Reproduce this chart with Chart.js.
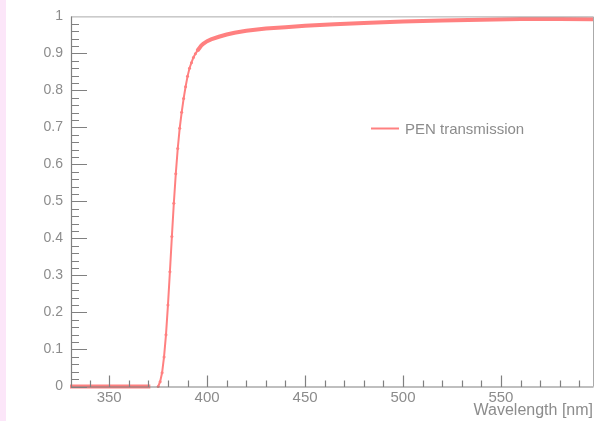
<!DOCTYPE html>
<html>
<head>
<meta charset="utf-8">
<script src="https://cdn.jsdelivr.net/npm/chart.js@4.4.0/dist/chart.umd.min.js"></script>
<style>
  html, body { margin: 0; padding: 0; background: #fff; }
  #wrap { width: 597px; height: 421px; position: relative; }
</style>
</head>
<body>
<div id="wrap"><canvas id="chart" width="597" height="421"></canvas></div>
<script>
// data (nm, fraction transmitted)
const wavelength = [330, 340, 350, 360, 371, 372,
  375, 376, 377, 378, 379, 380, 381, 382, 383, 384, 385, 386, 387, 388, 389, 390,
  391, 392, 393, 394, 395, 396, 397, 398, 400, 402, 406, 410, 414, 420, 430, 440,
  450, 465, 480, 500, 520, 540, 560, 580, 597];
const transmission = [0, 0, 0, 0, 0, null,
  0, 0.013, 0.037, 0.08, 0.14, 0.22, 0.31, 0.405, 0.495, 0.575, 0.643, 0.698, 0.741, 0.778, 0.81, 0.838,
  0.86, 0.875, 0.889, 0.899, 0.907, 0.914, 0.921, 0.926, 0.933, 0.938, 0.945, 0.951, 0.956, 0.961, 0.967, 0.971,
  0.975, 0.979, 0.982, 0.986, 0.989, 0.991, 0.993, 0.993, 0.992];

const xTicks = [350, 400, 450, 500, 550];
const yTicks = [0, 0.1, 0.2, 0.3, 0.4, 0.5, 0.6, 0.7, 0.8, 0.9, 1];
const seriesName = 'PEN transmission';
const xTitle = 'Wavelength [nm]';

const lineColor = '#ff8080';
const axisColor = '#808080';
const textColor = '#8c8c8c';
const FONT = '"Liberation Sans", Arial, sans-serif';

// ROOT style frame: ticks drawn inside the frame, minor ticks, legend without box
const rootFrame = {
  id: 'rootFrame',
  beforeDraw(chart) {
    const c = chart.ctx;
    c.save();
    c.fillStyle = '#fce6f9';
    c.fillRect(0, 0, 6, chart.height);
    c.restore();
  },
  afterDraw(chart) {
    const c = chart.ctx, a = chart.chartArea;
    const xs = chart.scales.x, ys = chart.scales.y;
    c.save();
    c.lineWidth = 1;

    // frame
    c.strokeStyle = '#aaaaaa';
    c.beginPath();
    c.moveTo(a.left, a.top + 0.5); c.lineTo(a.right + 0.5, a.top + 0.5);
    c.lineTo(a.right + 0.5, a.bottom);
    c.stroke();

    c.strokeStyle = axisColor;
    c.lineWidth = 1.2;
    c.beginPath();
    c.moveTo(a.left + 0.5, a.top); c.lineTo(a.left + 0.5, a.bottom + 0.5);
    c.lineTo(a.right + 0.5, a.bottom + 0.5);
    // y ticks
    for (let i = 0; i < yTicks.length - 1; i++) {
      const step = (yTicks[i + 1] - yTicks[i]) / 5;
      for (let j = 0; j < 5; j++) {
        const py = Math.round(ys.getPixelForValue(yTicks[i] + j * step)) + 0.5;
        const len = j === 0 ? 16 : 8;
        c.moveTo(a.left, py); c.lineTo(a.left + len, py);
      }
    }
    // x ticks (major every 50, minor every 10)
    const xStep = (xTicks[1] - xTicks[0]) / 5;
    for (let v = xTicks[0] - xStep; v <= xs.max; v += xStep) {
      if (v < xs.min) continue;
      const px = Math.round(xs.getPixelForValue(v)) + 0.5;
      const major = xTicks.some(t => Math.abs(t - v) < 1e-6);
      c.moveTo(px, a.bottom); c.lineTo(px, a.bottom - (major ? 11 : 6));
    }
    c.stroke();

    // axis title
    c.fillStyle = textColor;
    c.font = '16px ' + FONT;
    c.textAlign = 'right';
    c.textBaseline = 'alphabetic';
    c.fillText(xTitle, a.right, 415);

    // legend
    const lx = 371, ly = 128.5;
    c.strokeStyle = chart.data.datasets[0].borderColor;
    c.lineWidth = 2;
    c.beginPath(); c.moveTo(lx, ly); c.lineTo(lx + 28, ly); c.stroke();
    c.font = '15px ' + FONT;
    c.textAlign = 'left';
    c.textBaseline = 'middle';
    c.fillText(chart.data.datasets[0].label, lx + 34, ly + 1);
    c.restore();
  }
};

const thinFrom = 374, thinTo = 395;

new Chart(document.getElementById('chart'), {
  type: 'line',
  data: {
    datasets: [{
      label: seriesName,
      data: wavelength.map((w, i) => ({ x: w, y: transmission[i] })),
      borderColor: lineColor,
      backgroundColor: lineColor,
      borderWidth: 4,
      pointRadius: ctx => {
        const w = wavelength[ctx.dataIndex];
        return (w >= thinFrom && w <= thinTo) ? 1.5 : 0;
      },
      pointBorderWidth: 0,
      pointHoverRadius: 0,
      tension: 0,
      spanGaps: false,
      clip: 4,
      segment: {
        borderWidth: ctx => (ctx.p0.parsed.x >= thinFrom && ctx.p1.parsed.x <= thinTo) ? 2 : 4
      }
    }]
  },
  options: {
    responsive: false,
    animation: false,
    events: [],
    layout: { padding: { top: 12, right: 4, left: 0, bottom: 0 } },
    plugins: { legend: { display: false }, tooltip: { enabled: false } },
    scales: {
      x: {
        type: 'linear',
        min: 330.5,
        max: 597,
        grid: { display: false, drawTicks: false },
        border: { display: false },
        afterBuildTicks: s => { s.ticks = xTicks.map(v => ({ value: v })); },
        afterFit: s => { s.height = 34.5; },
        ticks: {
          color: textColor,
          font: { family: FONT, size: 15 },
          padding: 2,
          maxRotation: 0,
          callback: v => String(v)
        }
      },
      y: {
        min: 0,
        max: 1,
        grid: { display: false, drawTicks: false },
        border: { display: false },
        afterBuildTicks: s => { s.ticks = yTicks.map(v => ({ value: v })); },
        afterFit: s => { s.width = 71; },
        ticks: {
          color: textColor,
          font: { family: FONT, size: 14 },
          padding: 8,
          callback: v => (v === 0 || v === 1) ? String(v) : v.toFixed(1)
        }
      }
    }
  },
  plugins: [rootFrame]
});
</script>
</body>
</html>
